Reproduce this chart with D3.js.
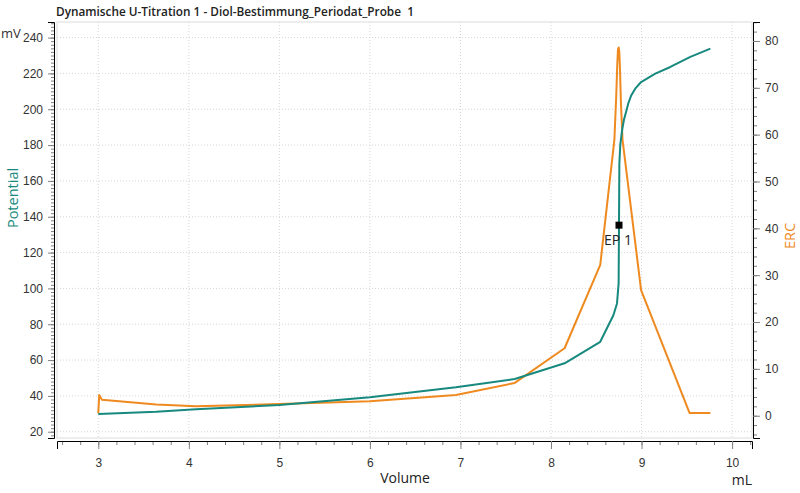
<!DOCTYPE html>
<html>
<head>
<meta charset="utf-8">
<script src="https://cdn.jsdelivr.net/npm/d3@7"></script>
<style>
  body { margin: 0; background: #fff; }
  svg { display: block; font-family: "Open Sans", "Noto Sans", sans-serif; }
  .tick text { fill: #333; }
</style>
</head>
<body>
<svg id="chart" width="800" height="493"></svg>
<script>
// chart data
const title = "Dynamische U-Titration 1 - Diol-Bestimmung_Periodat_Probe  1";

const potVolume = [3.0, 3.64, 4.08, 5.0, 6.0, 6.95, 7.6, 8.15, 8.544, 8.689, 8.729, 8.747, 8.751, 8.755, 8.765, 8.785, 8.805, 8.829, 8.855, 8.884, 8.93, 8.995, 9.152, 9.318, 9.539, 9.76];
const potential = [29.9, 31.2, 32.6, 34.9, 39.3, 44.8, 49.4, 58.2, 70.2, 85, 91.6, 102.8, 135.3, 169.7, 180, 188.3, 194, 198.5, 203.5, 207.5, 211.5, 215.2, 219.9, 223.6, 229.2, 233.8];

const ercVolume = [3.0, 3.01, 3.04, 3.64, 4.08, 5.0, 6.0, 6.95, 7.6, 8.15, 8.544, 8.70, 8.72, 8.732, 8.740, 8.747, 8.754, 8.762, 8.772, 8.79, 8.995, 9.53, 9.76];
const erc = [0.5, 4.4, 3.4, 2.4, 2.0, 2.5, 3.1, 4.4, 7.0, 14.4, 32.2, 58.9, 68, 75, 78.2, 78.6, 77.8, 74, 67, 58.9, 26.8, 0.6, 0.6];

const epVolume = [8.751];
const epPotential = [135.3];
const epLabels = ["EP 1"];

const xTicks = [3, 4, 5, 6, 7, 8, 9, 10];
const leftTicks = [20, 40, 60, 80, 100, 120, 140, 160, 180, 200, 220, 240];
const rightTicks = [0, 10, 20, 30, 40, 50, 60, 70, 80];

const teal = "#17897e";
const orange = "#ee8a1f";

const svg = d3.select("#chart");
const plot = { left: 57, right: 752, top: 22, bottom: 438 };

const x = d3.scaleLinear().domain([2.544, 10.22]).range([plot.left, plot.right]);
const yL = d3.scaleLinear().domain([16.5, 248.7]).range([plot.bottom, plot.top]);
const yR = d3.scaleLinear().domain([-4.76, 84.05]).range([plot.bottom, plot.top]);

// frame
svg.append("rect")
    .attr("x", plot.left).attr("y", plot.top)
    .attr("width", plot.right - plot.left).attr("height", plot.bottom - plot.top)
    .attr("fill", "none").attr("stroke", "#dcdcdc");

// grid
const grid = svg.append("g").attr("stroke", "#d6d6d6").attr("stroke-dasharray", "1,2");
grid.selectAll(".hg").data(leftTicks).enter().append("line")
    .attr("x1", plot.left).attr("x2", plot.right)
    .attr("y1", d => yL(d)).attr("y2", d => yL(d));
grid.selectAll(".vg").data(xTicks).enter().append("line")
    .attr("y1", plot.top).attr("y2", plot.bottom)
    .attr("x1", d => x(d)).attr("x2", d => x(d));

function styleAxis(g) {
    g.select(".domain").attr("stroke", "none");
    g.selectAll(".tick line").attr("stroke", "#808080");
    g.selectAll(".tick text").attr("font-size", 12).attr("fill", "#333");
}

// minor ticks
const xMinor = d3.range(2.6, 10.21, 0.2);
const lMinor = d3.range(18, 249, 2);
const rMinor = d3.range(-4, 84.1, 2);

const xAxisG = svg.append("g").attr("transform", `translate(0,${plot.bottom + 3})`);
xAxisG.call(d3.axisBottom(x).tickValues(xMinor).tickSize(4).tickFormat(""));
xAxisG.append("g").call(d3.axisBottom(x).tickValues(xTicks).tickSize(8).tickPadding(9).tickFormat(d3.format("d")));
styleAxis(xAxisG);

const lAxisG = svg.append("g").attr("transform", `translate(${plot.left - 3},0)`);
lAxisG.call(d3.axisLeft(yL).tickValues(lMinor).tickSize(3).tickFormat(""));
lAxisG.append("g").call(d3.axisLeft(yL).tickValues(leftTicks).tickSize(6).tickPadding(5).tickFormat(d3.format("d")));
styleAxis(lAxisG);

const rAxisG = svg.append("g").attr("transform", `translate(${plot.right + 1},0)`);
rAxisG.call(d3.axisRight(yR).tickValues(rMinor).tickSize(4).tickFormat(""));
rAxisG.append("g").call(d3.axisRight(yR).tickValues(rightTicks).tickSize(7).tickPadding(5).tickFormat(d3.format("d")));
styleAxis(rAxisG);

// curves
const potLine = d3.line().x((d, i) => x(potVolume[i])).y(d => yL(d));
const ercLine = d3.line().x((d, i) => x(ercVolume[i])).y(d => yR(d));

svg.append("path").datum(erc)
    .attr("d", ercLine).attr("fill", "none")
    .attr("stroke", orange).attr("stroke-width", 2).attr("stroke-linejoin", "round");

svg.append("path").datum(potential)
    .attr("d", potLine).attr("fill", "none")
    .attr("stroke", teal).attr("stroke-width", 2).attr("stroke-linejoin", "round");

// endpoint marker
svg.selectAll(".ep").data(epVolume).enter().append("rect")
    .attr("x", (d) => x(d) - 3.5).attr("y", (d, i) => yL(epPotential[i]) - 3.5)
    .attr("width", 7).attr("height", 7).attr("fill", "#000");
svg.selectAll(".eplabel").data(epVolume).enter().append("text")
    .attr("x", d => x(d) - 1).attr("y", (d, i) => yL(epPotential[i]) + 20)
    .attr("text-anchor", "middle").attr("font-size", 14).attr("fill", "#222")
    .text((d, i) => epLabels[i]);

// texts
svg.append("text").attr("x", 56).attr("y", 16)
    .attr("font-size", 11.8).attr("font-weight", 600).attr("fill", "#222")
    .style("white-space", "pre")
    .text(title);
svg.append("text").attr("x", 1).attr("y", 38)
    .attr("font-size", 13).attr("fill", "#333").text("mV");
svg.append("text")
    .attr("transform", "translate(18,198) rotate(-90)")
    .attr("text-anchor", "middle").attr("font-size", 14.5).attr("fill", teal)
    .text("Potential");
svg.append("text")
    .attr("transform", "translate(795,236) rotate(-90)")
    .attr("text-anchor", "middle").attr("font-size", 14.5).attr("fill", orange)
    .text("ERC");
svg.append("text").attr("x", 405).attr("y", 483)
    .attr("text-anchor", "middle").attr("font-size", 14).attr("fill", "#222")
    .text("Volume");
svg.append("text").attr("x", 752).attr("y", 485)
    .attr("text-anchor", "end").attr("font-size", 14).attr("fill", "#222")
    .text("mL");
</script>
</body>
</html>
